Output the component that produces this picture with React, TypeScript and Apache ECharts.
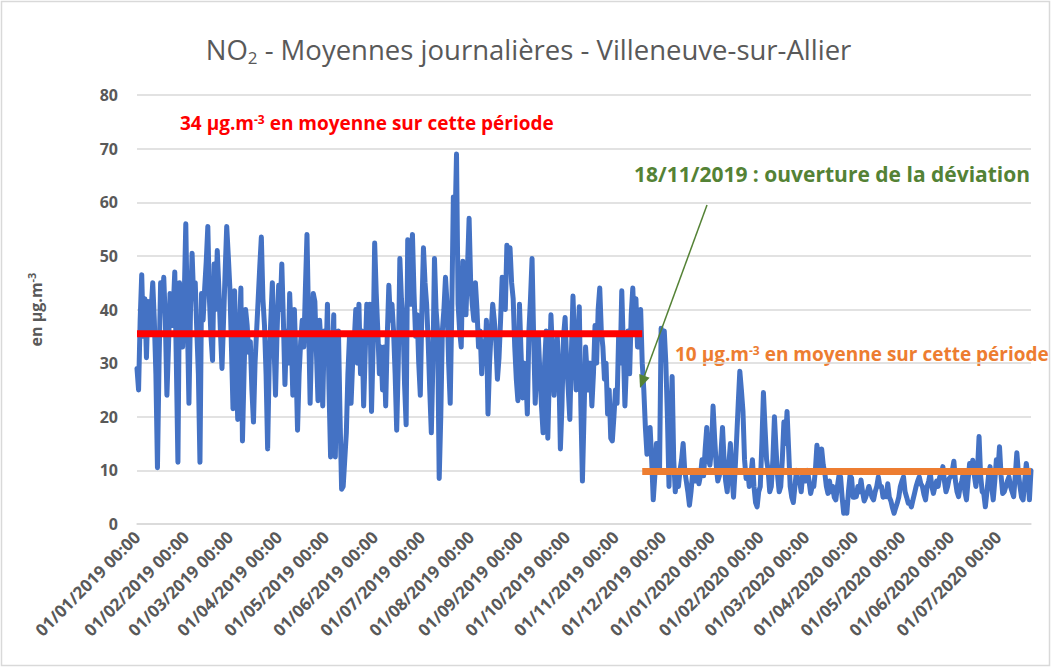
import React, { useEffect, useRef } from "react";
import * as echarts from "echarts";

// Daily NO2 means (µg/m3), one array per month
const jan2019 = [29, 25, 38, 46.5, 35, 42, 31, 41.5, 36, 40, 45, 38, 28, 10.5, 30, 45, 40, 46, 38, 24, 33, 43, 37, 40, 47, 30, 11.5, 45, 37, 33, 42];
const feb2019 = [56, 38, 22.5, 40, 50.5, 42, 45, 36, 28, 11.5, 43, 38, 44, 49, 55.5, 42, 35, 30.5, 48.5, 40, 51, 44, 36, 29, 38, 47, 55.5, 50];
const mar2019 = [44, 33, 21.5, 43.5, 30, 19.5, 35, 44, 15.5, 28, 40, 37, 32, 34, 25, 19, 30, 36, 42, 48, 53.5, 42, 37, 28, 14, 30, 38, 45, 34, 24, 36];
const apr2019 = [44.5, 40, 48.5, 38, 26, 36, 30, 43, 35, 24, 40, 30, 17.5, 28, 34, 38, 33, 44, 54, 38, 22.5, 35, 43, 41.5, 32, 23, 38, 33, 22, 36];
const may2019 = [30, 41, 25, 12.5, 30, 39, 12.5, 28, 36, 20, 6.5, 7, 12, 17, 28, 35, 22.5, 30, 34, 40, 30, 41, 28, 36, 22, 32, 41, 35, 41, 21, 33];
const jun2019 = [52.4, 43, 36, 28, 33, 25, 33, 22, 35, 44.5, 38, 41, 36, 28, 17.5, 30, 49.5, 42, 38, 26, 18.5, 53, 47, 41, 54, 43, 35, 39, 30, 24];
const jul2019 = [40, 51.5, 45, 41, 34, 25, 17, 30, 49.5, 40, 36, 8.5, 20, 36, 40, 46, 41, 30, 22.5, 40, 61, 55, 69, 41, 36, 33, 49, 44, 39, 48, 57];
const aug2019 = [45, 41, 38, 45, 40, 33, 36, 28, 34, 30, 38, 20.5, 30, 36, 41, 38, 34, 27, 31, 38, 46, 43, 40, 52, 48, 51.5, 45, 42, 33, 27, 23];
const sep2019 = [41, 32, 23.5, 30, 28, 20.5, 36, 42, 49.5, 35, 22.5, 30, 35, 28, 22, 17, 30, 36, 16, 28, 39, 32, 24, 31, 35, 29, 14, 22, 35, 38.5];
const oct2019 = [30, 25, 19.5, 32, 42.5, 34, 25, 32, 40.5, 22, 8, 20, 33, 28, 25, 30, 22, 28, 37, 30, 40, 44, 36, 33, 27, 30, 20.5, 25, 16, 15.5, 20];
const nov2019 = [25, 22.5, 35, 30, 43.5, 33, 22, 30, 36, 28, 39, 44, 36, 42, 33, 37, 40, 30, 25, 18, 13, 16, 18, 12, 4.5, 9, 15, 12, 10, 36.5];
const dec2019 = [33, 36, 30, 20, 7, 18, 27.5, 12, 6, 9, 7, 10, 12, 15, 10, 8, 6, 3.5, 6, 9.5, 8, 8, 10, 7.5, 9, 12, 9, 14, 18, 12, 11];
const jan2020 = [14, 22, 16, 11, 8, 9, 13, 18, 12, 8, 6, 11, 15, 9, 5, 10, 16, 22.5, 28.5, 25, 21, 12, 8.5, 10, 7, 9, 12, 7, 4, 3.2, 6];
const feb2020 = [7, 15, 24.5, 18, 12, 10, 6, 7, 12, 20, 14, 9, 6, 7, 12, 19, 15, 21, 14, 7, 5, 4, 7, 10, 8, 8, 6, 9.5, 8];
const mar2020 = [8, 10, 8, 5.7, 7, 7, 10, 14.7, 12, 10, 14, 11, 9.5, 7, 5.7, 8, 6, 7, 5, 4.5, 7, 9, 8.8, 5, 2, 4, 2, 6, 9, 8.6, 5];
const apr2020 = [5, 5.1, 7, 6, 8.2, 6, 4.3, 5, 6, 7, 6, 5, 4.5, 6, 7, 8.8, 7, 7, 5, 6, 5.1, 7.5, 5, 4.3, 3, 2, 3, 3.9, 5, 7];
const may2020 = [8, 8.8, 6, 5, 3.9, 4, 3.2, 4.5, 5.7, 7, 8, 8.8, 7.5, 7, 5.5, 4.5, 7, 8, 9.5, 7, 5.7, 7, 8, 7, 8.8, 9, 10.7, 8, 6, 7, 8.5];
const jun2020 = [8.8, 10, 11.7, 8, 6, 5.1, 7, 8, 9.5, 6, 4.5, 8, 11.3, 10, 11.9, 9, 7, 10, 16.3, 9, 6, 5.7, 3.2, 6, 9, 10.7, 7, 4.5, 8, 12];
const jul2020 = [10, 14.4, 9, 5.7, 6, 7, 8, 8.8, 7, 6, 5.1, 9, 13.3, 9.5, 7, 5, 4.5, 8, 11.3, 9, 4.5, 10];

const months = [jan2019, feb2019, mar2019, apr2019, may2019, jun2019, jul2019, aug2019, sep2019, oct2019, nov2019, dec2019,
  jan2020, feb2020, mar2020, apr2020, may2020, jun2020, jul2020];
const values: number[] = months.flat();

const pad = (n: number) => (n < 10 ? "0" + n : "" + n);
const categories: string[] = values.map((_, i) => {
  const d = new Date(2019, 0, 1 + i);
  return `${pad(d.getDate())}/${pad(d.getMonth() + 1)}/${d.getFullYear()} 00:00`;
});

const openingDate = "18/11/2019 00:00";
const meanBefore = 35.5; // drawn level of the "34 µg" bar
const meanAfter = 9.8;   // drawn level of the "10 µg" bar
const yTicks = [0, 10, 20, 30, 40, 50, 60, 70, 80];

const FONT = "'Open Sans', 'Noto Sans', sans-serif";
const GRAY = "#595959";

export default function App() {
  const ref = useRef<HTMLDivElement>(null);
  useEffect(() => {
    if (!ref.current) return;
    const chart = echarts.init(ref.current, null, { renderer: "svg" });
    const changeIdx = categories.indexOf(openingDate);
    const last = categories.length - 1;
    const tip = [640, 388];
    const from = [707, 205];
    const dx = tip[0] - from[0], dy = tip[1] - from[1];
    const len = Math.sqrt(dx * dx + dy * dy);
    const ux = dx / len, uy = dy / len;
    const hl = 13, hw = 5.5;
    const bx = tip[0] - hl * ux, by = tip[1] - hl * uy;
    chart.setOption({
      animation: false,
      backgroundColor: "#ffffff",
      textStyle: { fontFamily: FONT },
      title: {
        text: "NO{sub|2} - Moyennes journalières - Villeneuve-sur-Allier",
        left: "center",
        top: 28,
        textStyle: {
          fontFamily: FONT, fontSize: 27.5, fontWeight: "normal", color: GRAY,
          rich: {
            sub: { fontFamily: FONT, fontSize: 17, color: GRAY, verticalAlign: "bottom", padding: [16, 0, 0, 0] },
          },
        },
      },
      grid: { left: 137, right: 26, top: 95, bottom: 146, containLabel: false },
      xAxis: {
        type: "category",
        data: categories,
        boundaryGap: false,
        axisLine: { show: true, lineStyle: { color: "#d9d9d9", width: 1.5 } },
        axisTick: { show: false },
        splitLine: { show: false },
        axisLabel: {
          interval: (_i: number, v: string) => v.startsWith("01/"),
          rotate: 45,
          margin: 10,
          color: GRAY,
          fontWeight: "bold",
          fontSize: 17,
          fontFamily: FONT,
        },
      },
      yAxis: {
        type: "value",
        min: yTicks[0],
        max: yTicks[yTicks.length - 1],
        interval: 10,
        name: "en µg.m{sup|-3}",
        nameLocation: "middle",
        nameRotate: 90,
        nameGap: 92,
        nameTextStyle: {
          fontFamily: FONT, fontWeight: "bold", fontSize: 16, color: GRAY,
          rich: { sup: { fontFamily: FONT, fontWeight: "bold", fontSize: 11, color: GRAY, verticalAlign: "top", padding: [0, 0, 8, 0] } },
        },
        axisLine: { show: false },
        axisTick: { show: false },
        splitLine: { lineStyle: { color: "#d9d9d9", width: 1.5 } },
        axisLabel: { color: GRAY, fontWeight: "bold", fontSize: 16, margin: 19, fontFamily: FONT },
      },
      series: [
        {
          name: "NO2",
          type: "line",
          data: values,
          showSymbol: false,
          lineStyle: { color: "#4472c4", width: 5, join: "round", cap: "round" },
          itemStyle: { color: "#4472c4" },
          z: 2,
        },
        {
          name: "moyenne avant",
          type: "line",
          data: [[categories[0], meanBefore], [categories[changeIdx], meanBefore]],
          showSymbol: false,
          lineStyle: { color: "#ff0000", width: 7 },
          z: 3,
        },
        {
          name: "moyenne après",
          type: "line",
          data: [[categories[changeIdx], meanAfter], [categories[last], meanAfter]],
          showSymbol: false,
          lineStyle: { color: "#ed7d31", width: 7 },
          z: 3,
        },
      ],
      graphic: [
        {
          type: "rect",
          shape: { x: 1.5, y: 1.5, width: 1048, height: 664 },
          style: { fill: "none", stroke: "#d9d9d9", lineWidth: 1.5 },
          silent: true,
        },
        {
          type: "text",
          left: 180,
          top: 113,
          style: {
            text: "{a|34 µg.m}{s|-3}{a| en moyenne sur cette période}",
            rich: {
              a: { fontFamily: FONT, fontWeight: "bold", fontSize: 19, fill: "#ff0000" },
              s: { fontFamily: FONT, fontWeight: "bold", fontSize: 12, fill: "#ff0000", verticalAlign: "top" },
            },
          },
        },
        {
          type: "text",
          left: 634,
          top: 163,
          style: {
            text: "18/11/2019 : ouverture de la déviation",
            fontFamily: FONT, fontWeight: "bold", fontSize: 21, fill: "#548235",
          },
        },
        {
          type: "text",
          left: 675,
          top: 344,
          style: {
            text: "{a|10 µg.m}{s|-3}{a| en moyenne sur cette période}",
            rich: {
              a: { fontFamily: FONT, fontWeight: "bold", fontSize: 19, fill: "#ed7d31" },
              s: { fontFamily: FONT, fontWeight: "bold", fontSize: 12, fill: "#ed7d31", verticalAlign: "top" },
            },
          },
        },
        {
          type: "line",
          shape: { x1: from[0], y1: from[1], x2: bx, y2: by },
          style: { stroke: "#548235", lineWidth: 1.5 },
          z: 10,
        },
        {
          type: "polygon",
          shape: { points: [[tip[0], tip[1]], [bx + hw * -uy, by + hw * ux], [bx - hw * -uy, by - hw * ux]] },
          style: { fill: "#548235" },
          z: 10,
        },
      ],
    });
    return () => chart.dispose();
  }, []);
  return (
    <div
      ref={ref}
      style={{ position: "absolute", left: 0, top: 0, width: 1057, height: 670, background: "#fff" }}
    />
  );
}
